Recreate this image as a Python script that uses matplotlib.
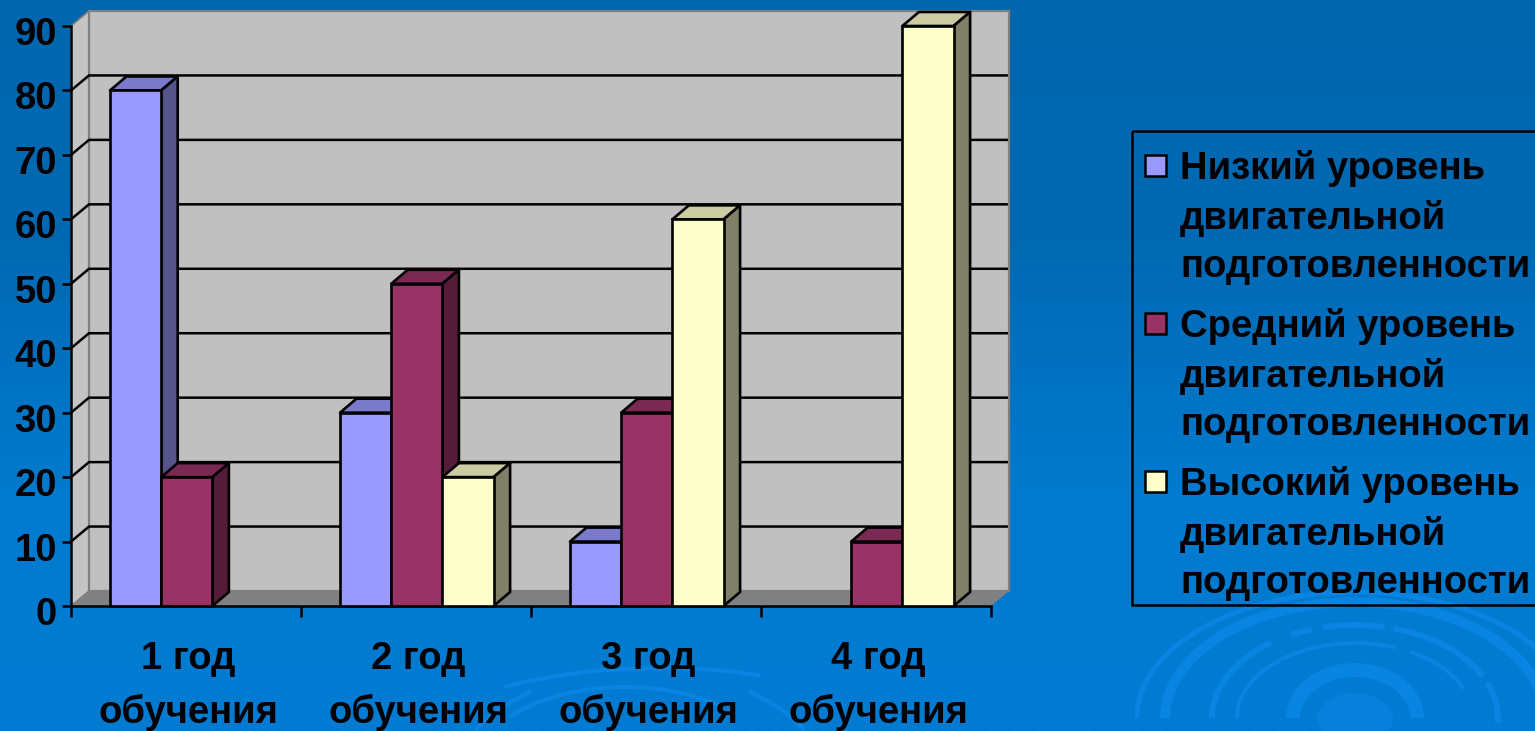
import numpy as np
import matplotlib
matplotlib.use("Agg")
import matplotlib.pyplot as plt
from matplotlib.patches import Ellipse, Arc, Polygon, Rectangle
from matplotlib.transforms import ScaledTranslation

categories = ["1 год\nобучения", "2 год\nобучения", "3 год\nобучения", "4 год\nобучения"]
series_names = ["Низкий уровень\nдвигательной\nподготовленности",
                "Средний уровень\nдвигательной\nподготовленности",
                "Высокий уровень\nдвигательной\nподготовленности"]
low = [80, 30, 10, 0]
mid = [20, 50, 30, 10]
high = [0, 20, 60, 90]
y_ticks = list(range(0, 100, 10))

W, H = 1535, 731
FS = 27.5
plt.rcParams['font.family'] = ['Liberation Sans', 'DejaVu Sans']
fig = plt.figure(figsize=(W/100, H/100), dpi=100)

# background in pixel coordinates
bg = fig.add_axes([0, 0, 1, 1], zorder=0)
bg.set_xlim(0, W); bg.set_ylim(H, 0); bg.axis('off')
grad = np.linspace(0, 1, 256).reshape(-1, 1)
cmap = matplotlib.colors.LinearSegmentedColormap.from_list('b', ['#0066AE', '#0069B3', '#007ACE', '#007CD2'])
bg.imshow(grad, extent=[0, W, H, 0], aspect='auto', cmap=cmap)
ring = '#0884E2'
cx, cy = 1355, 718
for rx, ry, lw, t1, t2 in [(218, 126, 5, 180, 360), (190, 116, 10, 180, 360),
                           (143, 93, 6, 180, 222), (143, 93, 6, 232, 244), (143, 93, 6, 250, 288),
                           (143, 93, 6, 293, 342), (143, 93, 6, 345, 362),
                           (118, 75, 4, 180, 300), (118, 75, 4, 310, 345),
                           (62, 48, 14, 180, 360)]:
    bg.add_patch(Arc((cx, cy), 2*rx, 2*ry, theta1=t1, theta2=t2, color=ring, lw=lw*0.72))
bg.add_patch(Ellipse((cx, cy), 76, 50, color='#0680DA', lw=0))
for c, rx, ry, t1, t2, lw in [((660, 760), 255, 92, 205, 320, 3), ((625, 770), 150, 83, 205, 325, 3),
                              ((640, 790), 190, 120, 200, 222, 3), ((640, 790), 190, 120, 318, 340, 3)]:
    bg.add_patch(Arc(c, 2*rx, 2*ry, theta1=t1, theta2=t2, color=ring, lw=lw))
bg.set_xlim(0, W); bg.set_ylim(H, 0)

# chart plane
L, R, B, T = 71, 991, 606, 26
ax = fig.add_axes([L/W, 1-B/H, (R-L)/W, (B-T)/H], zorder=2)
ax.set_xlim(0, 4); ax.set_ylim(0, 90)
ax.patch.set_alpha(0)
for s in ['top', 'right']:
    ax.spines[s].set_visible(False)
for s in ['left', 'bottom']:
    ax.spines[s].set_linewidth(1.8); ax.spines[s].set_color('black')

per_x, per_y = (R-L)/4, (B-T)/90
wall_dx, wall_dy = 18/per_x, 15/per_y
bar_dx, bar_dy = 16.5/per_x, 14/per_y

ax.fill([0, wall_dx, wall_dx, 0], [0, wall_dy, 90+wall_dy, 90], fc='#C4C4C4', ec='#808080', lw=1.2, clip_on=False, zorder=1)
ax.fill([wall_dx, 4+wall_dx, 4+wall_dx, wall_dx], [wall_dy, wall_dy, 90+wall_dy, 90+wall_dy],
        fc='#C0C0C0', ec='#808080', lw=1.6, clip_on=False, zorder=1)
ax.fill([0, 4, 4+wall_dx, wall_dx], [0, 0, wall_dy, wall_dy], fc='#808080', ec='none', clip_on=False, zorder=1.5)
for v in y_ticks[1:-1]:
    ax.plot([0, wall_dx, 4+wall_dx-0.01], [v, v+wall_dy, v+wall_dy], color='black', lw=1.8, clip_on=False, zorder=2)

colors = [('#9999FF', '#7A7ACC', '#55558C'), ('#993366', '#7A2952', '#541C38'), ('#FFFFCC', '#CCCCA3', '#808066')]
gap = 39.0/per_x
bw = 51.2/per_x
z = 3
for j, vals in enumerate([low, mid, high]):
    front, top, side = colors[j]
    for i, v in enumerate(vals):
        if v == 0:
            continue
        x0 = i + gap + j*bw
        ax.bar(x0, v, width=bw, align='edge', fc=front, ec='black', lw=1.9, zorder=z+.2, clip_on=False)
        ax.fill([x0, x0+bar_dx, x0+bw+bar_dx, x0+bw], [v, v+bar_dy, v+bar_dy, v], fc=top, ec='black', lw=1.9, zorder=z, clip_on=False, joinstyle='round')
        ax.fill([x0+bw, x0+bw+bar_dx, x0+bw+bar_dx, x0+bw], [0, bar_dy, v+bar_dy, v], fc=side, ec='black', lw=1.9, zorder=z, clip_on=False, joinstyle='round')
    z += 1

ax.set_yticks(y_ticks)
ax.tick_params(axis='y', length=6.5, width=1.8, pad=3.5, labelsize=FS)
for t in ax.get_yticklabels():
    t.set_fontweight('bold')
    t.set_transform(t.get_transform() + ScaledTranslation(0, -5/100, fig.dpi_scale_trans))
ax.set_xticks(range(5)); ax.set_xticklabels([])
ax.set_xticks(np.arange(4)+0.5, minor=True)
ax.set_xticklabels(categories, minor=True, fontsize=FS, fontweight='bold', linespacing=1.59)
ax.tick_params(axis='x', which='major', length=8, width=1.8)
ax.tick_params(axis='x', which='minor', length=0, pad=25)
for t in ax.get_xticklabels(minor=True):
    t.set_transform(t.get_transform() + ScaledTranslation(2/100, 0, fig.dpi_scale_trans))

# legend
leg = fig.add_axes([0, 0, 1, 1], zorder=3)
leg.set_xlim(0, W); leg.set_ylim(H, 0); leg.axis('off')
leg.add_patch(Rectangle((1132, 131), 420, 474, fc='none', ec='black', lw=1.8, clip_on=True))
for j, (name, yc) in enumerate(zip(series_names, [165, 323, 481])):
    leg.add_patch(Rectangle((1145, yc-10), 21, 21, fc=colors[j][0], ec='black', lw=1.8))
    leg.text(1180, yc-15, name, fontsize=FS, fontweight='bold', va='top', ha='left', linespacing=1.446, color='black')

fig.savefig('out.png', dpi=100)
